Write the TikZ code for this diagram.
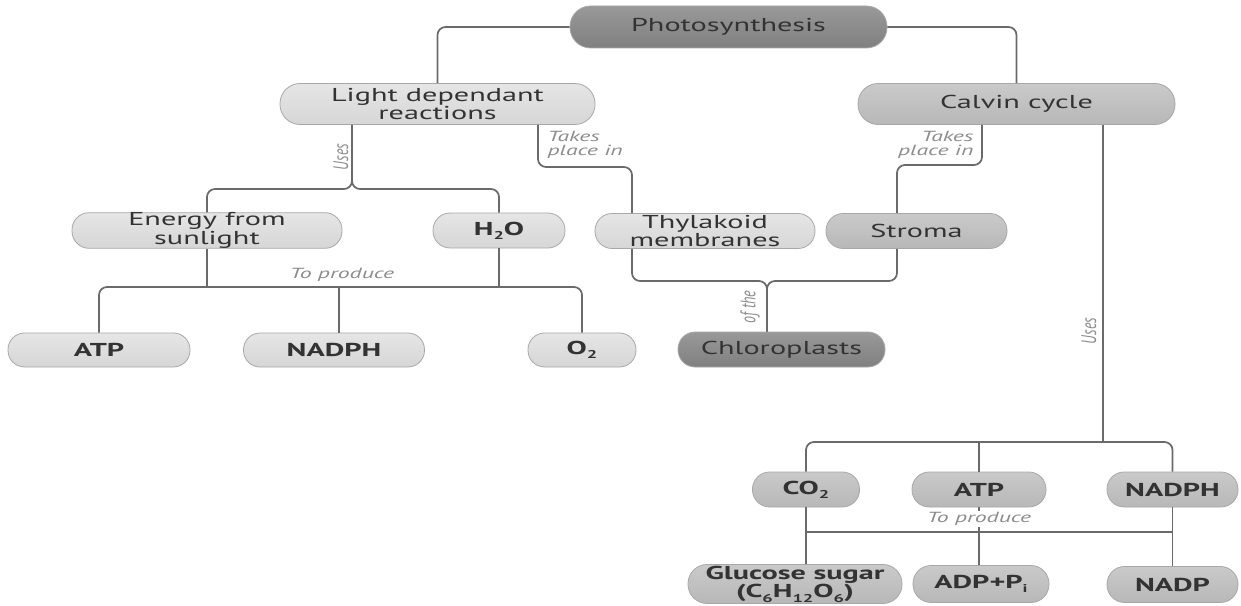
\documentclass[tikz,border=0pt]{standalone}
\usepackage{fontspec}
\usepackage{graphicx}
\setmainfont{PT Sans}[FakeStretch=1.62]
\newfontfamily\plainsans{PT Sans}
\newcommand\chemsub[1]{\raisebox{-0.45ex}{\fontsize{8.5}{8.5}\selectfont #1}}
\definecolor{txt}{HTML}{333333}
\definecolor{lbl}{HTML}{8C8C8C}
\definecolor{wire}{HTML}{6A6A6A}
\definecolor{edge}{HTML}{A8A8A8}
\begin{document}
\begin{tikzpicture}[x=0.75pt,y=-0.75pt,
  pill/.style 2 args={draw=edge, line width=0.6pt,
    minimum width=#1*0.75pt, minimum height=#2*0.75pt,
    rounded corners=#2*0.375pt-0.3pt, inner sep=0pt, align=center,
    text=txt, font=\fontsize{14}{10.5}\selectfont},
  pale/.style={top color=black!10, bottom color=black!16},
  mid/.style={top color=black!21, bottom color=black!28},
  deep/.style={top color=black!40, bottom color=black!50},
  heavy/.style={font=\fontsize{14}{10.5}\selectfont\bfseries},
  conn/.style={draw=wire, line width=1.3pt},
  rc/.style={rounded corners=6pt},
  note/.style={text=lbl, font=\fontsize{11}{10.5}\selectfont\itshape, inner sep=1pt},
  vnote/.style={text=lbl, font=\plainsans\fontsize{10.5}{10.5}\selectfont\itshape, inner sep=1pt, rotate=90}]

\path[use as bounding box, fill=white] (0,0) rectangle (1241,606);

% concept boxes
\node[pill={317}{42}, deep]  (photo)  at (728.5,27)  {Photosynthesis};
\node[pill={315}{41}, pale]  (light)  at (437.5,104) {Light dependant\\reactions};
\node[pill={317}{41}, mid]   (calvin) at (1016.5,104) {Calvin cycle};
\node[pill={270}{35}, pale]  (energy) at (207,230.5) {Energy from\\sunlight};
\node[pill={132}{35}, pale, heavy] (h2o) at (499,230.5) {H\chemsub{2}O};
\node[pill={220}{35}, pale]  (thyl)   at (705,231) {Thylakoid\\membranes};
\node[pill={181}{35}, mid]   (stroma) at (916.5,231) {Stroma};
\node[pill={182}{34}, pale, heavy] (atpA)   at (99,350) {ATP};
\node[pill={181}{34}, pale, heavy] (nadphA) at (334,350) {NADPH};
\node[pill={108}{34}, pale, heavy] (o2)     at (582,350) {O\chemsub{2}};
\node[pill={207}{35}, deep]  (chloro) at (781.5,349.5) {Chloroplasts};
\node[pill={107}{35}, mid, heavy] (co2)    at (806,489.5) {CO\chemsub{2}};
\node[pill={134}{35}, mid, heavy] (atpB)   at (979,489.5) {ATP};
\node[pill={131}{35}, mid, heavy] (nadphB) at (1172.5,489.5) {NADPH};
\node[pill={214}{39}, mid, heavy] (gluc)   at (795,584) {Glucose sugar\\(C\chemsub{6}H\chemsub{12}O\chemsub{6})};
\node[pill={136}{37}, mid, heavy] (adp)    at (981,584) {ADP+P\chemsub{i}};
\node[pill={131}{36}, mid, heavy] (nadp)   at (1172.5,584.5) {NADP};

% branch points
\coordinate (lu) at (352,189);
\coordinate (lt) at (538,167);
\coordinate (tx) at (632,0);
\coordinate (ct) at (982,165);
\coordinate (sx) at (897,0);
\coordinate (cj) at (767,281);
\coordinate (cu) at (1103,442);
\coordinate (pa) at (339,287);
\coordinate (pb) at (0,532);

% top level
\draw[conn, rc] (photo.west) -| (light.north);
\draw[conn, rc] (photo.east) -| (calvin.north);

% light dependant reactions: uses
\draw[conn, rc] (light.south -| lu) -- (lu) -| (energy.north);
\draw[conn, rc] (light.south -| lu) -- (lu) -| (h2o.north);
\node[vnote] at (341,157) {\scalebox{1}[1.5]{Uses}};

% to produce (light stage)
\draw[conn] (energy.south) -- (energy.south |- pa);
\draw[conn] (h2o.south) -- (h2o.south |- pa);
\draw[conn, rc] (atpA.north) |- (o2.north |- pa) -- (o2.north);
\draw[conn] (nadphA.north -| pa) -- (pa);
\node[note] at (342,275) {To produce};

% takes place in
\draw[conn, rc] (light.south -| lt) -- (lt) -| (thyl.north -| tx);
\node[note, anchor=west, align=left] at (546,145) {Takes\\place in};
\draw[conn, rc] (calvin.south -| ct) -- (ct) -| (stroma.north -| sx);
\node[note, anchor=east, align=right] at (975,145) {Takes\\place in};

% of the chloroplasts
\draw[conn, rc] (thyl.south -| tx) |- (cj) -- (chloro.north -| cj);
\draw[conn, rc] (stroma.south -| sx) |- (cj) -- (chloro.north -| cj);
\node[vnote] at (750,307) {\scalebox{1}[1.5]{of the}};

% calvin cycle: uses
\draw[conn] (calvin.south -| cu) -- (cu);
\draw[conn, rc] (co2.north) |- (cu) -| (nadphB.north);
\draw[conn] (atpB.north) -- (atpB.north |- cu);
\node[vnote] at (1089,331) {\scalebox{1}[1.5]{Uses}};

% to produce (calvin stage)
\draw[conn] (co2.south) -- (gluc.north -| co2.south);
\draw[conn] (nadphB.south) -- (nadp.north);
\draw[conn] (co2.south |- pb) -- (nadphB.south |- pb);
\draw[conn] (atpB.south) -- (adp.north -| atpB.south);
\node[note, fill=white] at (979,519) {To produce};
\end{tikzpicture}
\end{document}
